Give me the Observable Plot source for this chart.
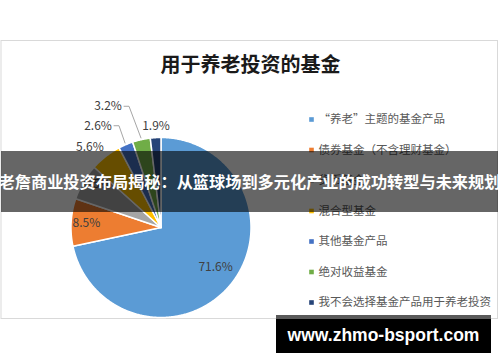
<!DOCTYPE html>
<html><head><meta charset="utf-8">
<script src="https://cdn.jsdelivr.net/npm/d3@7"></script>
<script src="https://cdn.jsdelivr.net/npm/@observablehq/plot@0.6"></script>
<style>body{margin:0;background:#fff;} svg{display:block}</style>
</head><body><div id="chart"></div>
<script>
// ---- data ----
const categories = ["“养老”主题的基金产品","债券基金（不含理财基金）","货币基金","混合型基金","其他基金产品","绝对收益基金","我不会选择基金产品用于养老投资"];
const shares = [71.6, 8.5, 6.5, 5.6, 2.6, 3.2, 1.9];
const shareLabels = ["71.6%","8.5%","6.5%","5.6%","2.6%","3.2%","1.9%"];
const colors = ["#5B9BD5","#ED7D31","#A5A5A5","#FFC000","#4472C4","#70AD47","#264478"];
const chartTitle = "用于养老投资的基金";
const bannerText = "老詹商业投资布局揭秘：从篮球场到多元化产业的成功转型与未来规划";
const watermarkText = "www.zhmo-bsport.com";

// ---- layout ----
const W = 500, H = 362;
const cx = 160.5, cy = 227, R = 90;
// label placement: radius factor, angle shift (deg), leader line
const labelPlacement = [
  {r: 0.75, da: -3},
  {r: 0.83, da: 0},
  {r: 0.86, da: 4},
  {r: 1.19, da: -3.7},
  {r: 1.33, da: -8.7, leader: true},
  {r: 1.47, da: -11, leader: true},
  {r: 1.13, da: 0.6}
];

const arcs = d3.pie().sort(null).value(d => d)(shares);
const pt = (a, r) => ({x: cx + r * Math.sin(a), y: cy - r * Math.cos(a)});

const slicePts = [];
arcs.forEach((a, i) => {
  slicePts.push({key: i, ...pt(0, 0)});
  const n = Math.max(2, Math.ceil((a.endAngle - a.startAngle) / (Math.PI / 360)));
  for (let k = 0; k <= n; k++) {
    const ang = a.startAngle + (a.endAngle - a.startAngle) * k / n;
    slicePts.push({key: i, ...pt(ang, R)});
  }
  slicePts.push({key: i, ...pt(0, 0)});
});

const labelData = arcs.map((a, i) => {
  const mid = (a.startAngle + a.endAngle) / 2;
  const p = labelPlacement[i];
  const pos = pt(mid + p.da * Math.PI / 180, p.r * R);
  return {i, text: shareLabels[i], mid, ...pos, leader: !!p.leader};
});

const leaderPts = [];
labelData.filter(d => d.leader).forEach(d => {
  leaderPts.push({key: d.i, x: d.x + 16, y: d.y});
  leaderPts.push({key: d.i, x: d.x + 21, y: d.y});
  const e = pt(d.mid, R * 1.02);
  leaderPts.push({key: d.i, x: e.x, y: e.y});
});

const legendY = (d, i) => 119 + i * 30.5;
const cjk = "'Noto Sans CJK SC', 'Noto Sans', sans-serif";

const chart = Plot.plot({
  width: W, height: H, margin: 0,
  x: {type: "linear", domain: [0, W], range: [0, W], axis: null},
  y: {type: "linear", domain: [0, H], range: [0, H], axis: null},
  color: {type: "identity"},
  style: {fontFamily: cjk, background: "white"},
  marks: [
    Plot.rect([0], {x1: 1, x2: 497.5, y1: 40.5, y2: 318.5, stroke: "#d9d9d9", fill: "white"}),
    Plot.text([chartTitle], {x: 250, y: 65, text: d => d, fontSize: 20, fontWeight: "bold", fill: "#1a1a1a"}),
    Plot.line(slicePts, {x: "x", y: "y", z: "key", fill: d => colors[d.key], stroke: "white", strokeWidth: 1.5, curve: "linear"}),
    Plot.line(leaderPts, {x: "x", y: "y", z: "key", stroke: "#a6a6a6", strokeWidth: 1}),
    Plot.text(labelData, {x: "x", y: "y", text: "text", fontSize: 12, fill: "#404040"}),
    Plot.dot(categories, {x: 311, y: legendY, symbol: "square", r: 2.6, fill: (d, i) => colors[i], stroke: null}),
    Plot.text(categories, {x: 318, y: legendY, text: d => d, textAnchor: "start", fontSize: 11.5, fill: "#595959"}),
    Plot.rect([0], {x1: 1, x2: 498, y1: 151, y2: 212, fill: "black", fillOpacity: 0.6}),
    Plot.text([bannerText], {x: 249, y: 182.5, text: d => d, fontSize: 16.2, fontWeight: "bold", fill: "white"}),
    Plot.rect([0], {x1: 276, x2: 491, y1: 315, y2: 319, fill: "#5a5a5a"}),
    Plot.rect([0], {x1: 276, x2: 491, y1: 319, y2: 353, fill: "black"}),
    Plot.text([watermarkText], {x: 383, y: 335, text: d => d, fontSize: 17.5, fontWeight: "bold", fill: "white", fontFamily: "'Liberation Sans', Arial, sans-serif"})
  ]
});
document.getElementById("chart").appendChild(chart);
</script>
</body></html>
